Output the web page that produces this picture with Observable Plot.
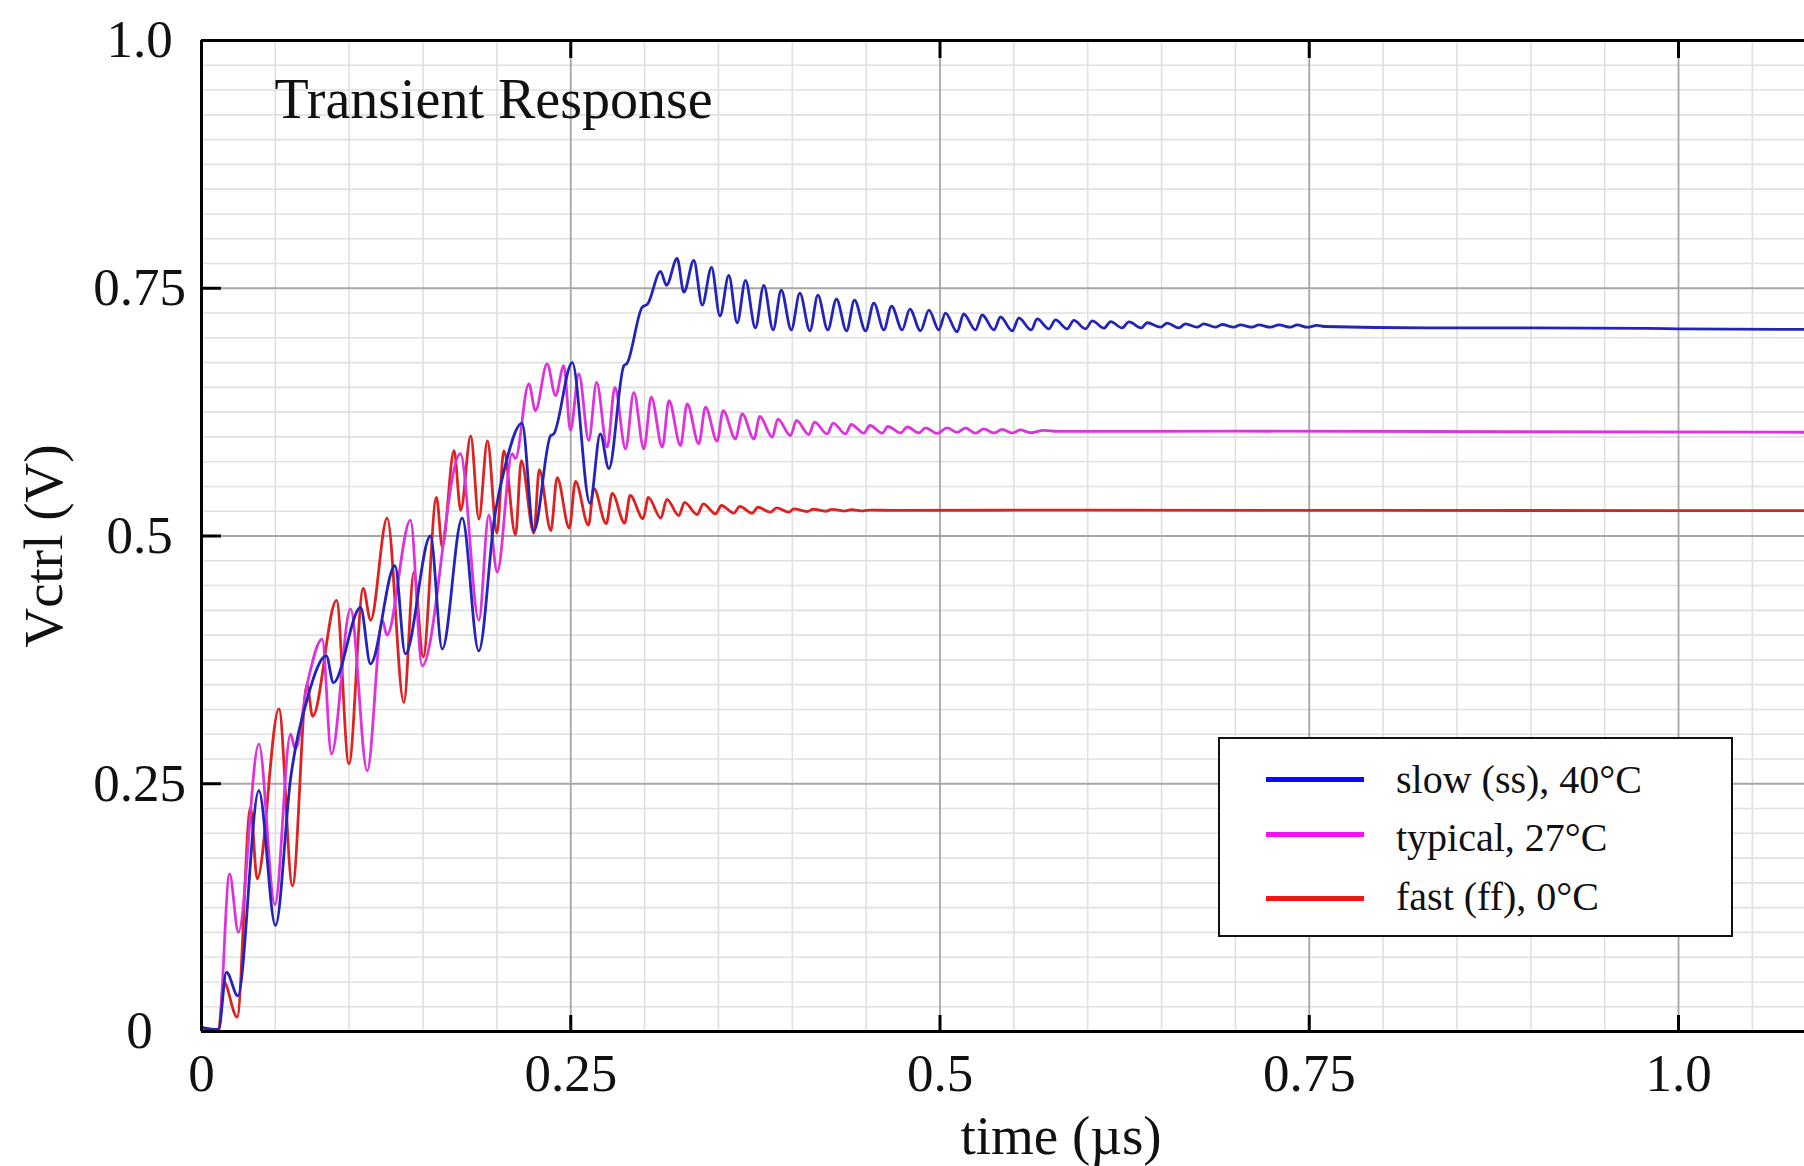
<!DOCTYPE html>
<html>
<head>
<meta charset="utf-8">
<script src="https://cdn.jsdelivr.net/npm/d3@7"></script>
<script src="https://cdn.jsdelivr.net/npm/@observablehq/plot@0.6"></script>
<style>
html, body { margin:0; padding:0; background:#fff; }
#wrap { position:relative; width:1804px; height:1166px; overflow:hidden; font-family:"Liberation Serif","Times New Roman",serif; }
#wrap svg { display:block; }
#legend { position:absolute; left:1218px; top:737px; width:511px; height:196px; border:2px solid #111; background:#fff; }
.sw { position:absolute; left:46px; width:98px; height:5px; }
.lt { position:absolute; left:176px; font-size:40px; line-height:40px; white-space:nowrap; color:#111; }
</style>
</head>
<body>
<div id="wrap"></div>
<script>
// ---------------- data ----------------
const seriesNames = ["slow (ss), 40°C", "typical, 27°C", "fast (ff), 0°C"];

const slowTime = [0, 0.0115, 0.0169, 0.0246, 0.0388, 0.0501, 0.0603, 0.0715, 0.0845, 0.0893,
  0.1077, 0.1144, 0.131, 0.138, 0.155, 0.163, 0.1765, 0.1877, 0.1985, 0.2055,
  0.217, 0.225, 0.2363, 0.2385, 0.251, 0.263, 0.27, 0.2758, 0.286, 0.288,
  0.2984, 0.302, 0.3108, 0.3148, 0.322, 0.3266, 0.3333, 0.339, 0.3453, 0.351,
  0.357, 0.3627, 0.3683, 0.375, 0.3807, 0.387, 0.3925, 0.3993, 0.4051, 0.4119,
  0.4173, 0.424, 0.4299, 0.4367, 0.4421, 0.4496, 0.4552, 0.462, 0.4672, 0.4744,
  0.4796, 0.4868, 0.4925, 0.4992, 0.5037, 0.5116, 0.516, 0.524, 0.5286, 0.5365,
  0.541, 0.5489, 0.5534, 0.5617, 0.5658, 0.5737, 0.5782, 0.5861, 0.5906, 0.5985,
  0.6031, 0.611, 0.6155, 0.6233, 0.6279, 0.6362, 0.6403, 0.6493, 0.6538, 0.6617,
  0.6662, 0.674, 0.6786, 0.6865, 0.691, 0.6989, 0.7034, 0.7113, 0.7158, 0.7237,
  0.7294, 0.7373, 0.7418, 0.7486, 0.7553, 0.76, 0.83, 0.9, 0.98, 1.0, 1.0853];
const slowVolt = [0.004, 0.002, 0.06, 0.036, 0.243, 0.107, 0.255, 0.335, 0.379, 0.352,
  0.428, 0.371, 0.47, 0.381, 0.5, 0.386, 0.518, 0.384, 0.52, 0.57,
  0.614, 0.505, 0.601, 0.603, 0.675, 0.533, 0.603, 0.568, 0.672, 0.674,
  0.731, 0.734, 0.767, 0.753, 0.78, 0.746, 0.778, 0.733, 0.771, 0.722,
  0.763, 0.715, 0.758, 0.71, 0.753, 0.708, 0.748, 0.708, 0.745, 0.707,
  0.743, 0.708, 0.739, 0.707, 0.738, 0.707, 0.735, 0.708, 0.732, 0.708,
  0.729, 0.707, 0.728, 0.708, 0.725, 0.706, 0.724, 0.708, 0.723, 0.708,
  0.721, 0.707, 0.72, 0.708, 0.719, 0.709, 0.718, 0.709, 0.7175, 0.709,
  0.717, 0.7097, 0.7164, 0.71, 0.716, 0.71, 0.7152, 0.7107, 0.7148, 0.71,
  0.7141, 0.7107, 0.714, 0.7107, 0.7134, 0.7107, 0.713, 0.7107, 0.713, 0.7107,
  0.713, 0.7107, 0.713, 0.7107, 0.7125, 0.7114, 0.71, 0.71, 0.7095, 0.709, 0.7084];

const typicalTime = [0, 0.0115, 0.019, 0.025, 0.0388, 0.0497, 0.0603, 0.0635, 0.0715, 0.0817,
  0.088, 0.1009, 0.1122, 0.1225, 0.1255, 0.1415, 0.1494, 0.1753, 0.1878, 0.1945,
  0.2002, 0.2103, 0.2125, 0.2216, 0.2261, 0.234, 0.2397, 0.2453, 0.2498, 0.2555,
  0.2622, 0.2675, 0.2747, 0.2799, 0.2871, 0.2927, 0.2995, 0.3045, 0.312, 0.3165,
  0.3243, 0.3288, 0.3367, 0.3412, 0.3491, 0.3532, 0.3615, 0.3661, 0.374, 0.378,
  0.3864, 0.3902, 0.3988, 0.4028, 0.4112, 0.415, 0.4236, 0.4277, 0.436, 0.4399,
  0.4484, 0.4525, 0.4609, 0.4647, 0.4733, 0.4778, 0.4857, 0.4902, 0.4981, 0.5049,
  0.5116, 0.5173, 0.524, 0.5297, 0.5365, 0.5421, 0.5489, 0.5545, 0.5613, 0.57,
  0.58, 0.7, 0.9, 1.0853];
const typicalVolt = [0.004, 0.001, 0.159, 0.1, 0.29, 0.128, 0.3, 0.285, 0.35, 0.396,
  0.28, 0.4265, 0.263, 0.415, 0.4, 0.516, 0.369, 0.583, 0.415, 0.521,
  0.4635, 0.583, 0.578, 0.6535, 0.6266, 0.6737, 0.6418, 0.672, 0.6065, 0.6636,
  0.5964, 0.655, 0.5896, 0.65, 0.588, 0.645, 0.588, 0.64, 0.5896, 0.6366,
  0.5913, 0.6333, 0.593, 0.63, 0.5957, 0.6266, 0.598, 0.6233, 0.598, 0.6206,
  0.5997, 0.618, 0.6014, 0.6166, 0.6024, 0.6149, 0.603, 0.614, 0.603, 0.6125,
  0.6038, 0.6115, 0.6038, 0.6105, 0.604, 0.61, 0.604, 0.6092, 0.6035, 0.6092,
  0.6045, 0.609, 0.6038, 0.608, 0.604, 0.6075, 0.604, 0.607, 0.6042, 0.6065,
  0.6055, 0.6058, 0.6052, 0.6047];

const fastTime = [0, 0.0115, 0.0151, 0.0241, 0.0332, 0.0377, 0.0524, 0.0616, 0.0715, 0.0752,
  0.0914, 0.0998, 0.1095, 0.1145, 0.1257, 0.137, 0.1438, 0.1501, 0.1591, 0.163,
  0.171, 0.1755, 0.1823, 0.1878, 0.1936, 0.2, 0.2047, 0.2126, 0.2165, 0.225,
  0.2287, 0.2365, 0.2408, 0.249, 0.2532, 0.262, 0.2656, 0.274, 0.2781, 0.2865,
  0.2902, 0.299, 0.3025, 0.311, 0.315, 0.3232, 0.327, 0.3356, 0.3397, 0.3481,
  0.352, 0.3604, 0.3645, 0.3728, 0.3767, 0.3852, 0.3893, 0.3977, 0.401, 0.4101,
  0.4142, 0.4225, 0.427, 0.435, 0.44, 0.448, 0.453, 0.47, 0.6, 0.8, 1.0, 1.0853];
const fastVolt = [0.004, 0.001, 0.05, 0.0145, 0.226, 0.154, 0.3256, 0.147, 0.35, 0.318,
  0.435, 0.27, 0.447, 0.415, 0.518, 0.332, 0.4635, 0.378, 0.539, 0.489,
  0.586, 0.526, 0.601, 0.517, 0.596, 0.503, 0.586, 0.501, 0.576, 0.503,
  0.567, 0.5055, 0.559, 0.508, 0.555, 0.511, 0.548, 0.5125, 0.543, 0.513,
  0.541, 0.5175, 0.539, 0.518, 0.537, 0.5207, 0.534, 0.5217, 0.5325, 0.5224,
  0.5308, 0.523, 0.5298, 0.523, 0.529, 0.524, 0.5284, 0.524, 0.5274, 0.5247,
  0.527, 0.525, 0.5268, 0.5252, 0.5265, 0.5253, 0.5262, 0.5258, 0.5262, 0.5258, 0.5257, 0.5256];

const lineColors = ["#2424b8", "#dd33dd", "#dd2222"];
const legendColors = ["#0a0af5", "#f513f5", "#f51313"];

const xTickValues = [0, 0.25, 0.5, 0.75, 1.0];
const xTickLabels = ["0", "0.25", "0.5", "0.75", "1.0"];
const yTickValues = [0, 0.25, 0.5, 0.75, 1.0];
const yTickLabels = ["0", "0.25", "0.5", "0.75", "1.0"];
const xTickMarks = [0.25, 0.5, 0.75, 1.0];
const yTickMarks = [0.25, 0.5, 0.75];

const titleText = "Transient Response";
const xLabel = "time (µs)";
const yLabel = "Vctrl (V)";

// ---------------- chart ----------------
const W = 1804, H = 1166;
const mL = 201, mT = 40, mB = 135, mR = 0;
const xMax = 1.0853;
const plotW = W - mL - mR, plotH = H - mT - mB;
const FONT = "Liberation Serif, Times New Roman, serif";

const table = [
  ...slowTime.map((t, i) => ({t, v: slowVolt[i], name: seriesNames[0]})),
  ...typicalTime.map((t, i) => ({t, v: typicalVolt[i], name: seriesNames[1]})),
  ...fastTime.map((t, i) => ({t, v: fastVolt[i], name: seriesNames[2]}))
];
const drawOrder = [seriesNames[2], seriesNames[1], seriesNames[0]];

const xMinor = d3.range(1, 22).map(k => k * 0.05).filter(d => Math.abs(d / 0.25 - Math.round(d / 0.25)) > 1e-6);
const yMinor = d3.range(1, 40).map(k => k * 0.025).filter(d => Math.abs(d / 0.25 - Math.round(d / 0.25)) > 1e-6);

const chart = Plot.plot({
  width: W, height: H,
  marginLeft: mL, marginTop: mT, marginBottom: mB, marginRight: mR,
  x: {domain: [0, xMax], axis: null},
  y: {domain: [0, 1], axis: null},
  color: {domain: seriesNames, range: lineColors},
  style: {fontFamily: FONT, background: "#fff", color: "#111"},
  marks: [
    Plot.ruleX(xMinor, {stroke: "#e0e0e0", strokeWidth: 1.6}),
    Plot.ruleY(yMinor, {stroke: "#e0e0e0", strokeWidth: 1.6}),
    Plot.ruleX(xTickMarks, {stroke: "#a6a6a6", strokeWidth: 1.8}),
    Plot.ruleY(yTickMarks, {stroke: "#a6a6a6", strokeWidth: 1.8}),
    ...drawOrder.map(n => Plot.line(table.filter(r => r.name === n), {
      x: "t", y: "v", stroke: "name", strokeWidth: 2.8, curve: "monotone-x"
    })),
    // frame
    Plot.ruleY([0], {stroke: "#000", strokeWidth: 3}),
    Plot.ruleY([1], {stroke: "#000", strokeWidth: 3}),
    Plot.ruleX([0], {stroke: "#000", strokeWidth: 3}),
    // inward ticks
    Plot.ruleX(xTickMarks, {stroke: "#000", strokeWidth: 3, insetTop: plotH - 16}),
    Plot.ruleX(xTickMarks, {stroke: "#000", strokeWidth: 3, insetBottom: plotH - 18}),
    Plot.ruleY(yTickMarks, {stroke: "#000", strokeWidth: 3, insetRight: plotW - 20}),
    // tick labels
    Plot.text(xTickValues, {x: d => d, text: (d, i) => xTickLabels[i], frameAnchor: "bottom", lineAnchor: "middle", dy: 43, fontSize: 53, fill: "#111"}),
    Plot.text(yTickValues, {y: d => d, text: (d, i) => yTickLabels[i], frameAnchor: "left", lineAnchor: "middle", dx: -62, textAnchor: "middle", fontSize: 53, fill: "#111"}),
    // title & axis labels
    Plot.text([titleText], {frameAnchor: "top-left", lineAnchor: "middle", dx: 73, dy: 60, textAnchor: "start", fontSize: 56, fill: "#111"}),
    Plot.text([xLabel], {frameAnchor: "bottom", lineAnchor: "middle", dx: 58, dy: 105, textAnchor: "middle", fontSize: 55, fill: "#111"}),
    Plot.text([yLabel], {frameAnchor: "left", lineAnchor: "middle", textAnchor: "middle", dx: -157, dy: 10, rotate: -90, fontSize: 55, fill: "#111"})
  ]
});

const wrap = document.getElementById("wrap");
wrap.appendChild(chart);

// legend (inside plot area, lower right)
const legend = document.createElement("div");
legend.id = "legend";
const swTops = [37.5, 93.2, 156.5];
const txtTops = [20.5, 79.2, 138.2];
seriesNames.forEach((n, i) => {
  const sw = document.createElement("div");
  sw.className = "sw";
  sw.style.top = swTops[i] + "px";
  sw.style.background = legendColors[i];
  legend.appendChild(sw);
  const tx = document.createElement("div");
  tx.className = "lt";
  tx.style.top = txtTops[i] + "px";
  tx.textContent = n;
  legend.appendChild(tx);
});
wrap.appendChild(legend);
</script>
</body>
</html>
